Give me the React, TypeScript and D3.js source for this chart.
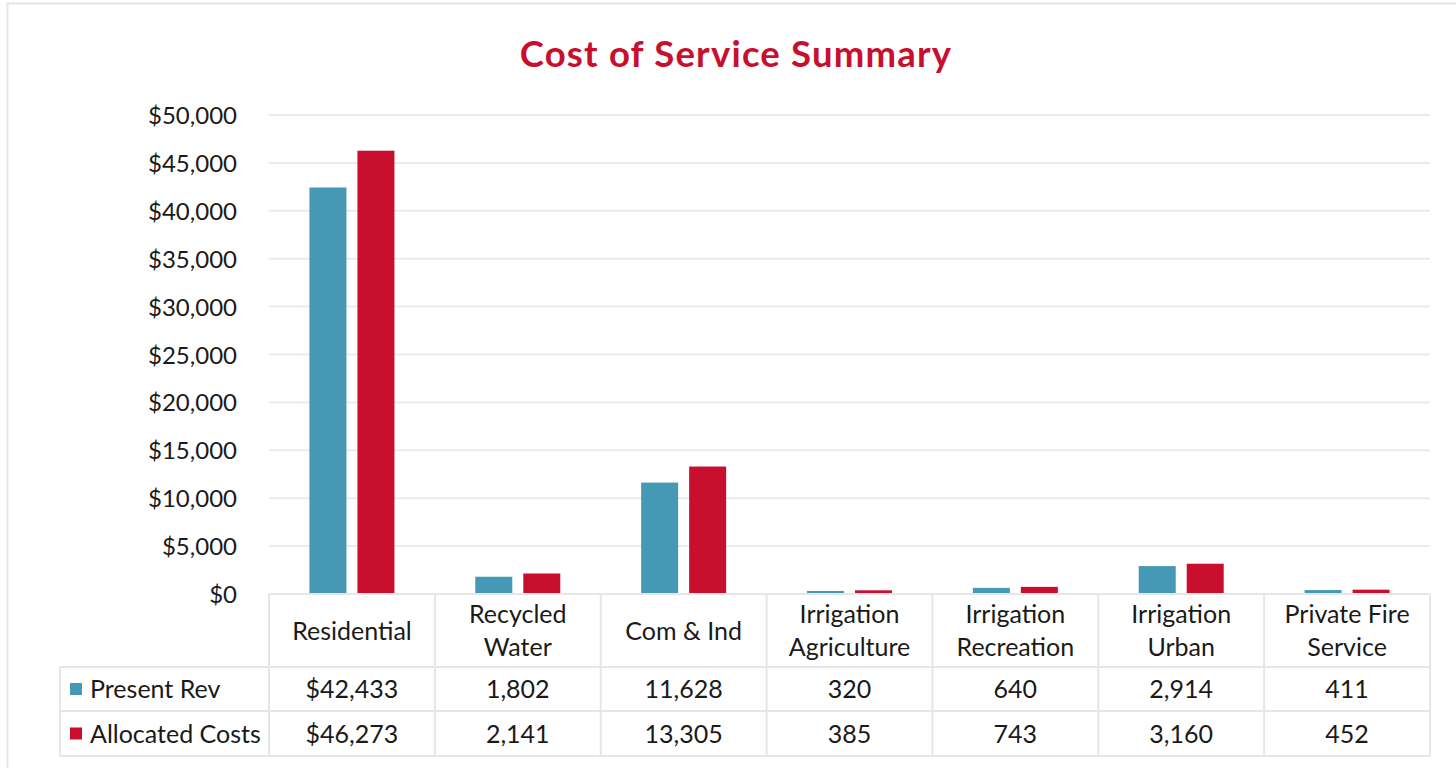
import React from "react";
import * as d3 from "d3";

const categories = [
  ["Residential"],
  ["Recycled", "Water"],
  ["Com & Ind"],
  ["Irrigation", "Agriculture"],
  ["Irrigation", "Recreation"],
  ["Irrigation", "Urban"],
  ["Private Fire", "Service"],
];
const presentRev = [42433, 1802, 11628, 320, 640, 2914, 411];
const allocatedCosts = [46273, 2141, 13305, 385, 743, 3160, 452];
const seriesNames = ["Present Rev", "Allocated Costs"];
const seriesColors = ["#4599B4", "#C8102E"];
const yTicks = [0, 5000, 10000, 15000, 20000, 25000, 30000, 35000, 40000, 45000, 50000];

const W = 1456, H = 768;
const left = 269, right = 1430, top = 115, bottom = 594;
const headerBottom = 667, row1Bottom = 711, row2Bottom = 756, legendLeft = 60;
const FONT = "Lato, 'Open Sans', sans-serif";

export default function App() {
  const x = d3.scaleBand<number>().domain(d3.range(categories.length)).range([left, right]);
  const y = d3.scaleLinear().domain([0, 50000]).range([bottom, top]);
  const series = [presentRev, allocatedCosts];
  const barW = 37, gap = 11;
  const fmtDollar = (v: number) => "$" + d3.format(",")(v);
  const fmt = d3.format(",");
  const gridColor = "#EBEBEB";
  const borderColor = "#E6E6E6";
  const rows = [
    [headerBottom, row1Bottom],
    [row1Bottom, row2Bottom],
  ];
  const textColor = "#1a1a1a";

  return (
    <svg width={W} height={H} style={{ position: "absolute", left: 0, top: 0, background: "#fff" }}>
      <rect x={7.5} y={3.5} width={1470} height={800} fill="#fff" stroke={borderColor} strokeWidth={2} />
      <text x={736} y={67} textAnchor="middle" fontFamily={FONT} fontWeight={700} fontSize={36.5} letterSpacing={1.2} fill="#C8102E">
        Cost of Service Summary
      </text>
      {yTicks.map((t) => (
        <g key={t}>
          {t > 0 && <line x1={left} x2={right} y1={y(t)} y2={y(t)} stroke={gridColor} strokeWidth={2} />}
          <text x={237} y={y(t) + 9} textAnchor="end" fontFamily={FONT} fontSize={24} fill={textColor}>
            {"$" + d3.format(",")(t)}
          </text>
        </g>
      ))}
      {categories.map((_, i) => {
        const cx = (x(i) as number) + x.bandwidth() / 2;
        return series.map((s, k) => {
          const bx = k === 0 ? cx - gap / 2 - barW : cx + gap / 2;
          return (
            <rect key={i + "-" + k} x={bx} y={y(s[i])} width={barW} height={bottom - y(s[i])} fill={seriesColors[k]} />
          );
        });
      })}
      <g stroke={borderColor} strokeWidth={2} fill="none">
        <line x1={left} x2={right} y1={bottom} y2={bottom} />
        <line x1={legendLeft} x2={right} y1={headerBottom} y2={headerBottom} />
        <line x1={legendLeft} x2={right} y1={row1Bottom} y2={row1Bottom} />
        <line x1={legendLeft} x2={right} y1={row2Bottom} y2={row2Bottom} />
        <line x1={legendLeft} x2={legendLeft} y1={headerBottom} y2={row2Bottom} />
        {d3.range(categories.length + 1).map((i) => {
          const xx = i < categories.length ? (x(i) as number) : right;
          return <line key={i} x1={xx} x2={xx} y1={bottom} y2={row2Bottom} />;
        })}
      </g>
      {categories.map((lines, i) => {
        const cx = (x(i) as number) + x.bandwidth() / 2;
        const mid = (bottom + headerBottom) / 2;
        return (
          <text key={i} textAnchor="middle" fontFamily={FONT} fontSize={25} fill={textColor}>
            {lines.map((ln, j) => (
              <tspan key={j} x={cx} y={mid + 9 + (j - (lines.length - 1) / 2) * 33}>
                {ln}
              </tspan>
            ))}
          </text>
        );
      })}
      {series.map((s, k) => {
        const [r0, r1] = rows[k];
        const my = (r0 + r1) / 2;
        return (
          <g key={k}>
            <rect x={70} y={my - 6} width={12} height={12} fill={seriesColors[k]} />
            <text x={90} y={my + 9} fontFamily={FONT} fontSize={25} fill={textColor}>
              {seriesNames[k]}
            </text>
            {s.map((v, i) => (
              <text key={i} x={(x(i) as number) + x.bandwidth() / 2} y={my + 9} textAnchor="middle" fontFamily={FONT} fontSize={25} fill={textColor}>
                {i === 0 ? fmtDollar(v) : fmt(v)}
              </text>
            ))}
          </g>
        );
      })}
    </svg>
  );
}
